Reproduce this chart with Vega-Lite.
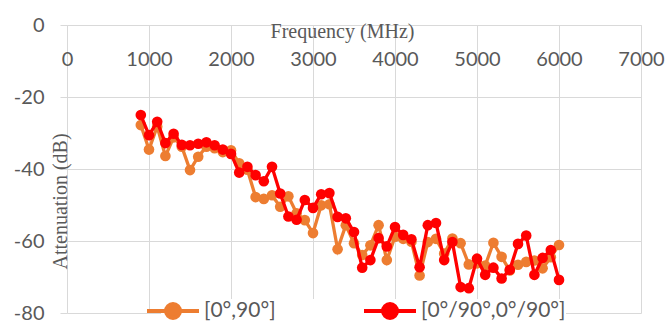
{
  "$schema": "https://vega.github.io/schema/vega-lite/v6.json",
  "width": 574,
  "height": 288,
  "autosize": {"type": "none"},
  "padding": {"left": 67, "top": 25, "right": 29, "bottom": 10},
  "background": "white",
  "config": {"view": {"stroke": null}, "font": "Lato"},
  "data": {"values": [
    {"f": 900, "v": -27.8, "s": "[0°,90°]"},
    {"f": 1000, "v": -34.6, "s": "[0°,90°]"},
    {"f": 1100, "v": -28.2, "s": "[0°,90°]"},
    {"f": 1200, "v": -36.4, "s": "[0°,90°]"},
    {"f": 1300, "v": -31.2, "s": "[0°,90°]"},
    {"f": 1400, "v": -33.8, "s": "[0°,90°]"},
    {"f": 1500, "v": -40.3, "s": "[0°,90°]"},
    {"f": 1600, "v": -36.6, "s": "[0°,90°]"},
    {"f": 1700, "v": -33.8, "s": "[0°,90°]"},
    {"f": 1800, "v": -34.2, "s": "[0°,90°]"},
    {"f": 1900, "v": -35.3, "s": "[0°,90°]"},
    {"f": 2000, "v": -34.8, "s": "[0°,90°]"},
    {"f": 2100, "v": -38.4, "s": "[0°,90°]"},
    {"f": 2200, "v": -40.2, "s": "[0°,90°]"},
    {"f": 2300, "v": -47.8, "s": "[0°,90°]"},
    {"f": 2400, "v": -48.3, "s": "[0°,90°]"},
    {"f": 2500, "v": -47.3, "s": "[0°,90°]"},
    {"f": 2600, "v": -50.5, "s": "[0°,90°]"},
    {"f": 2700, "v": -47.6, "s": "[0°,90°]"},
    {"f": 2800, "v": -52.3, "s": "[0°,90°]"},
    {"f": 2900, "v": -54.2, "s": "[0°,90°]"},
    {"f": 3000, "v": -57.8, "s": "[0°,90°]"},
    {"f": 3100, "v": -50.1, "s": "[0°,90°]"},
    {"f": 3200, "v": -49.8, "s": "[0°,90°]"},
    {"f": 3300, "v": -62.3, "s": "[0°,90°]"},
    {"f": 3400, "v": -55.6, "s": "[0°,90°]"},
    {"f": 3500, "v": -60.6, "s": "[0°,90°]"},
    {"f": 3600, "v": -63.9, "s": "[0°,90°]"},
    {"f": 3700, "v": -61.2, "s": "[0°,90°]"},
    {"f": 3800, "v": -55.6, "s": "[0°,90°]"},
    {"f": 3900, "v": -65.3, "s": "[0°,90°]"},
    {"f": 4000, "v": -58.8, "s": "[0°,90°]"},
    {"f": 4100, "v": -59.4, "s": "[0°,90°]"},
    {"f": 4200, "v": -60.2, "s": "[0°,90°]"},
    {"f": 4300, "v": -69.6, "s": "[0°,90°]"},
    {"f": 4400, "v": -60.3, "s": "[0°,90°]"},
    {"f": 4500, "v": -59.4, "s": "[0°,90°]"},
    {"f": 4600, "v": -63.5, "s": "[0°,90°]"},
    {"f": 4700, "v": -59.3, "s": "[0°,90°]"},
    {"f": 4800, "v": -60.6, "s": "[0°,90°]"},
    {"f": 4900, "v": -66.5, "s": "[0°,90°]"},
    {"f": 5000, "v": -66.2, "s": "[0°,90°]"},
    {"f": 5100, "v": -66.8, "s": "[0°,90°]"},
    {"f": 5200, "v": -60.5, "s": "[0°,90°]"},
    {"f": 5300, "v": -64.4, "s": "[0°,90°]"},
    {"f": 5400, "v": -68.2, "s": "[0°,90°]"},
    {"f": 5500, "v": -66.6, "s": "[0°,90°]"},
    {"f": 5600, "v": -65.8, "s": "[0°,90°]"},
    {"f": 5700, "v": -65.4, "s": "[0°,90°]"},
    {"f": 5800, "v": -67.6, "s": "[0°,90°]"},
    {"f": 5900, "v": -64.5, "s": "[0°,90°]"},
    {"f": 6000, "v": -61.1, "s": "[0°,90°]"},
    {"f": 900, "v": -25, "s": "[0°/90°,0°/90°]"},
    {"f": 1000, "v": -30.6, "s": "[0°/90°,0°/90°]"},
    {"f": 1100, "v": -26.9, "s": "[0°/90°,0°/90°]"},
    {"f": 1200, "v": -32.8, "s": "[0°/90°,0°/90°]"},
    {"f": 1300, "v": -30.2, "s": "[0°/90°,0°/90°]"},
    {"f": 1400, "v": -33.3, "s": "[0°/90°,0°/90°]"},
    {"f": 1500, "v": -33.4, "s": "[0°/90°,0°/90°]"},
    {"f": 1600, "v": -33, "s": "[0°/90°,0°/90°]"},
    {"f": 1700, "v": -32.6, "s": "[0°/90°,0°/90°]"},
    {"f": 1800, "v": -33.4, "s": "[0°/90°,0°/90°]"},
    {"f": 1900, "v": -34.6, "s": "[0°/90°,0°/90°]"},
    {"f": 2000, "v": -35.8, "s": "[0°/90°,0°/90°]"},
    {"f": 2100, "v": -41, "s": "[0°/90°,0°/90°]"},
    {"f": 2200, "v": -39.4, "s": "[0°/90°,0°/90°]"},
    {"f": 2300, "v": -41.7, "s": "[0°/90°,0°/90°]"},
    {"f": 2400, "v": -43.4, "s": "[0°/90°,0°/90°]"},
    {"f": 2500, "v": -39.4, "s": "[0°/90°,0°/90°]"},
    {"f": 2600, "v": -46.8, "s": "[0°/90°,0°/90°]"},
    {"f": 2700, "v": -53.2, "s": "[0°/90°,0°/90°]"},
    {"f": 2800, "v": -54.1, "s": "[0°/90°,0°/90°]"},
    {"f": 2900, "v": -48.6, "s": "[0°/90°,0°/90°]"},
    {"f": 3000, "v": -50.8, "s": "[0°/90°,0°/90°]"},
    {"f": 3100, "v": -47, "s": "[0°/90°,0°/90°]"},
    {"f": 3200, "v": -46.7, "s": "[0°/90°,0°/90°]"},
    {"f": 3300, "v": -53.3, "s": "[0°/90°,0°/90°]"},
    {"f": 3400, "v": -53.7, "s": "[0°/90°,0°/90°]"},
    {"f": 3500, "v": -57.5, "s": "[0°/90°,0°/90°]"},
    {"f": 3600, "v": -67.4, "s": "[0°/90°,0°/90°]"},
    {"f": 3700, "v": -65.3, "s": "[0°/90°,0°/90°]"},
    {"f": 3800, "v": -59.2, "s": "[0°/90°,0°/90°]"},
    {"f": 3900, "v": -61.5, "s": "[0°/90°,0°/90°]"},
    {"f": 4000, "v": -56.1, "s": "[0°/90°,0°/90°]"},
    {"f": 4100, "v": -58.3, "s": "[0°/90°,0°/90°]"},
    {"f": 4200, "v": -59.5, "s": "[0°/90°,0°/90°]"},
    {"f": 4300, "v": -67.3, "s": "[0°/90°,0°/90°]"},
    {"f": 4400, "v": -55.6, "s": "[0°/90°,0°/90°]"},
    {"f": 4500, "v": -55, "s": "[0°/90°,0°/90°]"},
    {"f": 4600, "v": -65.3, "s": "[0°/90°,0°/90°]"},
    {"f": 4700, "v": -60.3, "s": "[0°/90°,0°/90°]"},
    {"f": 4800, "v": -72.8, "s": "[0°/90°,0°/90°]"},
    {"f": 4900, "v": -73.1, "s": "[0°/90°,0°/90°]"},
    {"f": 5000, "v": -64.9, "s": "[0°/90°,0°/90°]"},
    {"f": 5100, "v": -69.4, "s": "[0°/90°,0°/90°]"},
    {"f": 5200, "v": -67.4, "s": "[0°/90°,0°/90°]"},
    {"f": 5300, "v": -70.4, "s": "[0°/90°,0°/90°]"},
    {"f": 5400, "v": -68, "s": "[0°/90°,0°/90°]"},
    {"f": 5500, "v": -60.8, "s": "[0°/90°,0°/90°]"},
    {"f": 5600, "v": -58.5, "s": "[0°/90°,0°/90°]"},
    {"f": 5700, "v": -69.4, "s": "[0°/90°,0°/90°]"},
    {"f": 5800, "v": -64.7, "s": "[0°/90°,0°/90°]"},
    {"f": 5900, "v": -62.5, "s": "[0°/90°,0°/90°]"},
    {"f": 6000, "v": -70.8, "s": "[0°/90°,0°/90°]"}
  ]},
  "encoding": {
    "x": {
      "field": "f", "type": "quantitative",
      "scale": {"domain": [0, 7000], "nice": false, "zero": false},
      "axis": {
        "orient": "bottom", "offset": -288,
        "values": [0, 1000, 2000, 3000, 4000, 5000, 6000, 7000],
        "format": "d",
        "title": "Frequency (MHz)", "titleFont": "Liberation Serif", "titleFontSize": 20,
        "titleFontWeight": "normal", "titleColor": "#595959",
        "titleX": 275, "titleY": 12, "titleAlign": "center", "titleBaseline": "alphabetic",
        "labelFontSize": 20, "labelColor": "#595959", "labelPadding": 24, "labelBaseline": "top",
        "labelFlush": false, "labelOverlap": false, "labelBound": false,
        "ticks": false, "domainColor": "#d9d9d9", "gridColor": "#d9d9d9", "gridOpacity": 1
      }
    },
    "y": {
      "field": "v", "type": "quantitative",
      "scale": {"domain": [-80, 0], "nice": false},
      "axis": {
        "values": [0, -20, -40, -60, -80],
        "labelExpr": "datum.value < 0 ? '-' + abs(datum.value) : '' + datum.value",
        "title": "Attenuation (dB)", "titleFont": "Liberation Serif", "titleFontSize": 20,
        "titleFontWeight": "normal", "titleColor": "#595959", "titleAngle": 270,
        "titleX": -1, "titleY": 176, "titleAlign": "center", "titleBaseline": "alphabetic",
        "labelFontSize": 20, "labelColor": "#595959", "labelPadding": 16,
        "tickSize": 7, "tickColor": "#d9d9d9", "domain": false,
        "gridColor": "#d9d9d9", "gridOpacity": 1
      }
    },
    "color": {
      "field": "s", "type": "nominal",
      "scale": {"domain": ["[0°,90°]", "[0°/90°,0°/90°]"], "range": ["#ED7D31", "#FF0000"]},
      "legend": {
        "orient": "none", "legendX": 94, "legendY": 274, "direction": "horizontal", "title": null,
        "symbolType": "M-2.6,0L2.6,0M-0.7,0A0.7,0.7,0,1,1,0.7,0A0.7,0.7,0,1,1,-0.7,0Z",
        "symbolSize": 400, "symbolStrokeWidth": 4,
        "labelFontSize": 21, "labelColor": "#595959", "labelOffset": 19,
        "columnPadding": 80, "fillColor": "white", "padding": 0
      }
    }
  },
  "layer": [
    {
      "transform": [{"filter": "datum.s === '[0°,90°]'"}],
      "mark": {"type": "line", "strokeWidth": 3.3, "point": {"filled": true, "size": 113, "opacity": 1}}
    },
    {
      "transform": [{"filter": "datum.s !== '[0°,90°]'"}],
      "mark": {"type": "line", "strokeWidth": 3.3, "point": {"filled": true, "size": 113, "opacity": 1}}
    }
  ]
}
